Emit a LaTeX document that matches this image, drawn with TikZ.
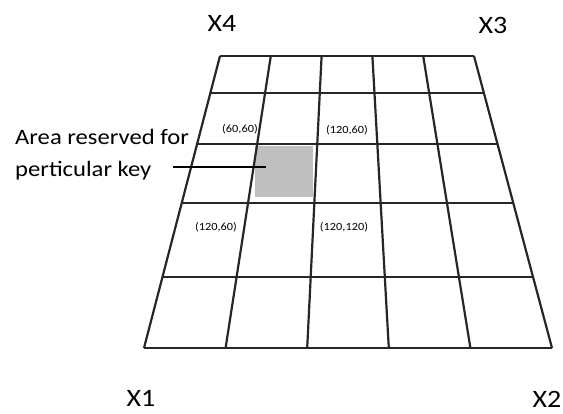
\documentclass[tikz,border=0pt]{standalone}
\usepackage{fontspec}
\setmainfont{Carlito}[FakeStretch=1.12]
\usepackage{tikz}
\usetikzlibrary{positioning,calc}
\tikzstyle{gridline} = [draw=black!85, line width=2.2pt]
\tikzstyle{corner} = [font=\fontsize{25}{30}\selectfont, inner sep=0pt]
\tikzstyle{cellmark} = [font=\fontsize{11}{12}\selectfont, inner sep=0pt]
\tikzstyle{note} = [font=\fontsize{22}{32}\selectfont, align=left, inner sep=0pt]
\tikzstyle{reserved} = [fill=black!25, inner sep=0pt, minimum width=58pt, minimum height=51pt]

\begin{document}
\begin{tikzpicture}[x=1pt,y=-1pt]
		\useasboundingbox (0,0) rectangle (563,414);

		% corners of the field
		\node[coordinate] (tl) at (220,56) {};
		\node[coordinate] (tr) at (474,56) {};
		\node[coordinate] (bl) at (144,348) {};
		\node[coordinate] (br) at (552,348) {};

		% reserved cell
		\node[reserved] (keycell) at (284,171.5) {};

		% grid lines
		\foreach \i in {0,...,5}
			\draw[gridline] ($(tl)!\i/5!(tr)$) -- ($(bl)!\i/5!(br)$);
		\foreach \t in {0,0.1267,0.3014,0.5034,0.7568,1}
			\draw[gridline] ($(tl)!\t!(bl)$) -- ($(tr)!\t!(br)$);

		% corner labels
		\node[corner] (x4) at (222,23) {X4};
		\node[corner] (x3) at (493,25) {X3};
		\node[corner] (x1) at (141,398) {X1};
		\node[corner] (x2) at (547,399) {X2};

		% cell labels
		\node[cellmark] (c1) at (240,129) {(60,60)};
		\node[cellmark] (c2) at (347,130) {(120,60)};
		\node[cellmark] (c3) at (216,227) {(120,60)};
		\node[cellmark] (c4) at (344,227) {(120,120)};

		% label of the reserved area
		\node[note,anchor=west] (area) at (15,155) {Area reserved for\\perticular key};
		\node[coordinate] (leadstart) at (173,167) {};
		\node[coordinate,right= 11pt of keycell.west |- leadstart] (leadend) {};
		\draw[line width=1.5pt] (leadstart) -- (leadend);
	\end{tikzpicture}
\end{document}
